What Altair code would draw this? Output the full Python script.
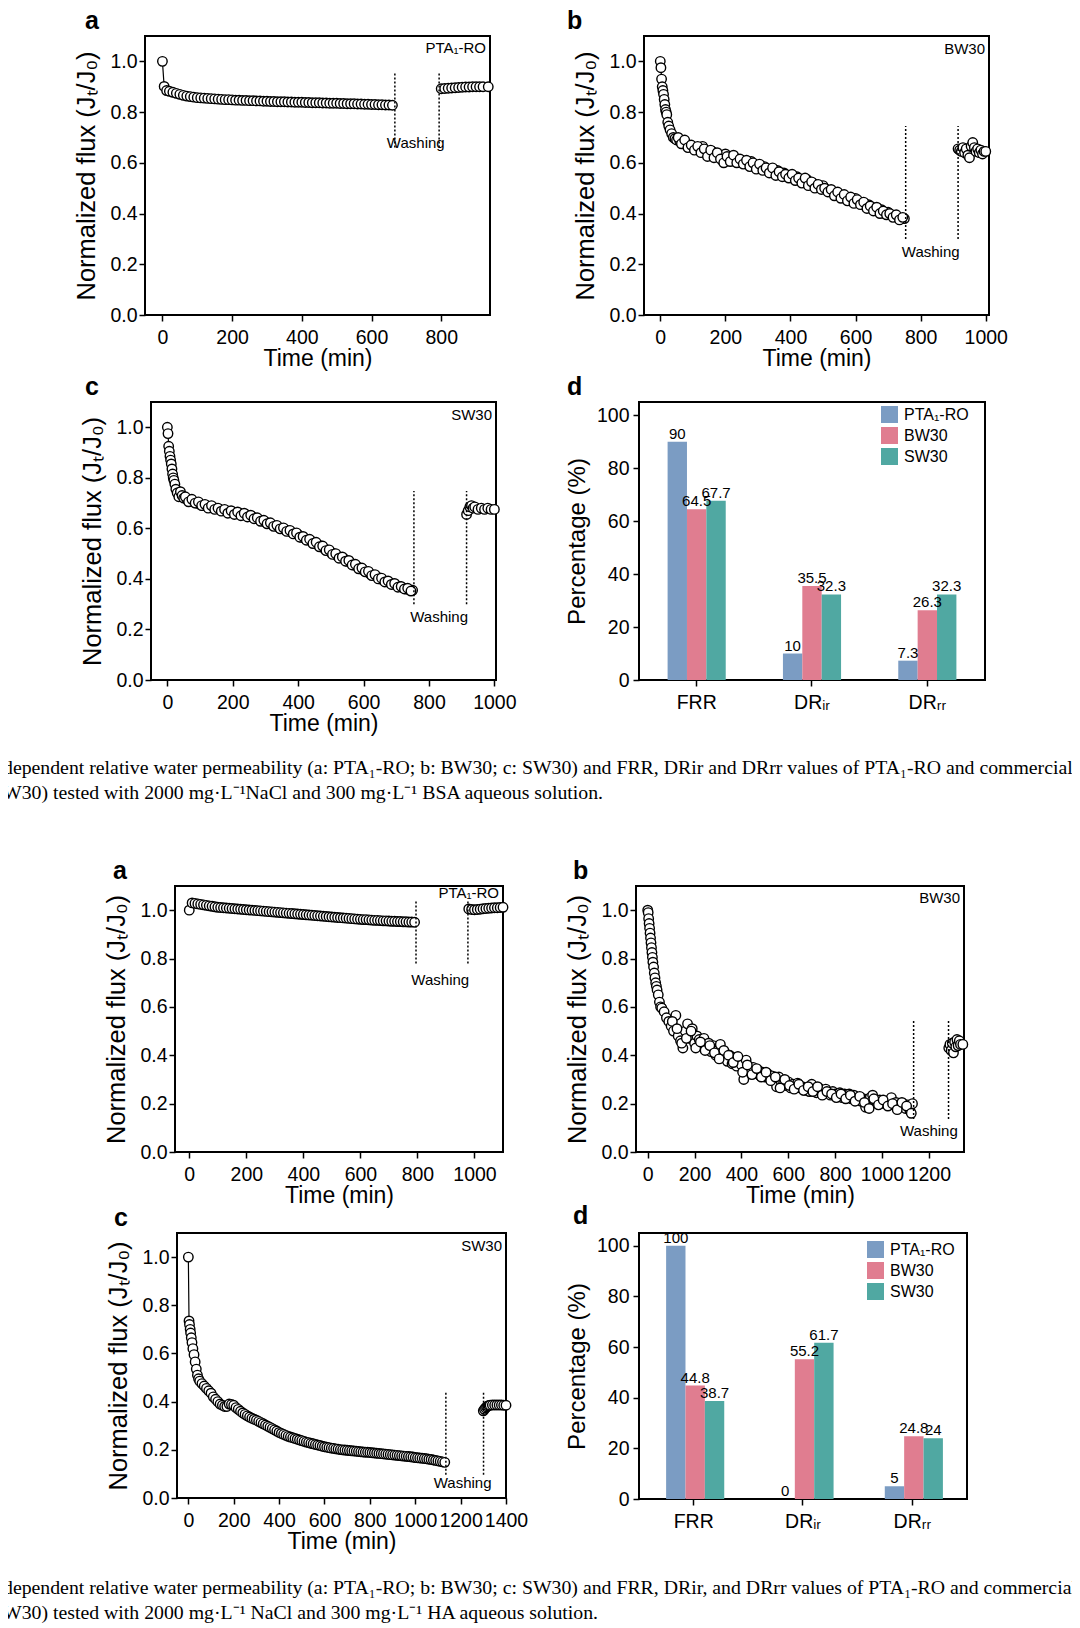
import altair as alt
import pandas as pd

# ---------------- data ----------------
YT = [0.0, 0.1, 0.2, 0.3, 0.4, 0.5, 0.6, 0.7, 0.8, 0.9, 1.0]

# BSA  a: PTA1-RO
a1_t = [0, 5, 12, 20, 30, 40, 50, 60, 70, 80, 90, 100, 110, 120, 130, 140, 150, 160, 170, 180, 190, 200,
        210, 220, 230, 240, 250, 260, 270, 280, 290, 300, 310, 320, 330, 340, 350, 360, 370, 380, 390, 400,
        410, 420, 430, 440, 450, 460, 470, 480, 490, 500, 510, 520, 530, 540, 550, 560, 570, 580, 590, 600,
        610, 620, 630, 640, 650, 660]
a1_v = [1.000, 0.901, 0.885, 0.882, 0.878, 0.874, 0.870, 0.866, 0.863, 0.861, 0.859, 0.857, 0.856, 0.855,
        0.854, 0.853, 0.852, 0.851, 0.850, 0.849, 0.849, 0.848, 0.847, 0.847, 0.846, 0.846, 0.845, 0.845,
        0.844, 0.844, 0.843, 0.843, 0.842, 0.842, 0.841, 0.841, 0.841, 0.840, 0.840, 0.839, 0.839, 0.839,
        0.838, 0.838, 0.837, 0.837, 0.837, 0.836, 0.836, 0.835, 0.835, 0.835, 0.834, 0.834, 0.833, 0.833,
        0.833, 0.832, 0.832, 0.831, 0.831, 0.830, 0.830, 0.829, 0.829, 0.828, 0.828, 0.827]
a1_t2 = [800, 810, 820, 830, 840, 850, 860, 870, 880, 890, 900, 910, 920, 935]
a1_v2 = [0.892, 0.893, 0.894, 0.895, 0.896, 0.897, 0.898, 0.899, 0.899, 0.900, 0.900, 0.900, 0.900, 0.900]

# BSA  b: BW30
b1_t = [0, 2, 4, 6, 8, 10, 12, 14, 16, 18, 20, 23, 26, 30, 35, 40, 45, 50, 60, 70, 80, 90, 100, 110, 120,
        130, 140, 150, 160, 170, 180, 190, 200, 210, 220, 230, 240, 250, 260, 270, 280, 290, 300, 310, 320,
        330, 340, 350, 360, 370, 380, 390, 400, 410, 420, 430, 440, 450, 460, 470, 480, 490, 500, 510, 520,
        530, 540, 550, 560, 570, 580, 590, 600, 610, 620, 630, 640, 650, 660, 670, 680, 690, 700, 710, 720,
        730, 740, 750]
b1_v = [1.00, 0.975, 0.93, 0.90, 0.885, 0.87, 0.85, 0.83, 0.81, 0.80, 0.79, 0.76, 0.745, 0.73, 0.715, 0.70,
        0.695, 0.69, 0.685, 0.68, 0.67, 0.665, 0.66, 0.655, 0.65, 0.665, 0.64, 0.635, 0.645, 0.63, 0.625,
        0.61, 0.635, 0.62, 0.615, 0.62, 0.605, 0.61, 0.60, 0.595, 0.605, 0.585, 0.59, 0.58, 0.585, 0.57,
        0.575, 0.56, 0.57, 0.555, 0.56, 0.545, 0.55, 0.54, 0.545, 0.53, 0.525, 0.535, 0.515, 0.52, 0.51,
        0.505, 0.51, 0.495, 0.49, 0.485, 0.48, 0.475, 0.47, 0.465, 0.455, 0.45, 0.46, 0.445, 0.44, 0.43,
        0.435, 0.425, 0.42, 0.41, 0.415, 0.40, 0.405, 0.395, 0.39, 0.385, 0.38, 0.38]
# extra (in-between) readings of the thick band, as (time, flux) pairs
b1_extra = [(55, 0.70), (65, 0.675), (75, 0.69), (85, 0.66), (95, 0.67), (105, 0.65), (115, 0.665),
            (125, 0.64), (135, 0.655), (145, 0.625), (155, 0.65), (165, 0.62), (175, 0.64), (185, 0.615),
            (195, 0.60), (205, 0.625), (215, 0.605), (225, 0.63), (235, 0.60), (245, 0.615), (255, 0.595),
            (265, 0.61), (275, 0.585), (285, 0.60), (295, 0.575), (305, 0.595), (315, 0.57), (325, 0.58),
            (335, 0.56), (345, 0.58), (355, 0.55), (365, 0.565), (375, 0.545), (385, 0.555), (395, 0.54),
            (405, 0.555), (415, 0.53), (425, 0.54), (435, 0.52), (445, 0.54), (455, 0.51), (465, 0.525),
            (475, 0.50), (485, 0.515), (495, 0.495), (505, 0.50), (515, 0.485), (525, 0.495), (535, 0.47),
            (545, 0.485), (555, 0.46), (565, 0.475), (575, 0.45), (585, 0.465), (595, 0.44), (605, 0.455),
            (615, 0.435), (625, 0.445), (635, 0.42), (645, 0.43), (655, 0.41), (665, 0.425), (675, 0.40),
            (685, 0.41), (695, 0.395), (705, 0.40), (715, 0.385), (725, 0.395), (735, 0.375), (745, 0.385)]
b1_t2 = [915, 920, 925, 930, 935, 940, 945, 950, 955, 960, 965, 970, 975, 980, 985, 990, 995, 1000]
b1_v2 = [0.655, 0.65, 0.645, 0.66, 0.64, 0.655, 0.63, 0.62, 0.665, 0.68, 0.66, 0.645, 0.655, 0.64, 0.65,
         0.635, 0.645, 0.645]

# BSA  c: SW30
c1_t = [0, 2, 4, 6, 8, 10, 12, 14, 16, 18, 20, 23, 26, 30, 35, 40, 45, 50, 60, 70, 80, 90, 100, 110, 120,
        130, 140, 150, 160, 170, 180, 190, 200, 210, 220, 230, 240, 250, 260, 270, 280, 290, 300, 310, 320,
        330, 340, 350, 360, 370, 380, 390, 400, 410, 420, 430, 440, 450, 460, 470, 480, 490, 500, 510, 520,
        530, 540, 550, 560, 570, 580, 590, 600, 610, 620, 630, 640, 650, 660, 670, 680, 690, 700, 710, 720,
        730, 740, 750]
c1_v = [1.00, 0.975, 0.925, 0.905, 0.885, 0.87, 0.855, 0.835, 0.815, 0.80, 0.79, 0.775, 0.755, 0.74, 0.725,
        0.745, 0.73, 0.72, 0.715, 0.71, 0.705, 0.70, 0.695, 0.69, 0.69, 0.685, 0.68, 0.68, 0.675, 0.67, 0.67,
        0.665, 0.665, 0.66, 0.66, 0.655, 0.655, 0.65, 0.645, 0.64, 0.635, 0.63, 0.625, 0.62, 0.615, 0.61,
        0.605, 0.60, 0.595, 0.59, 0.585, 0.58, 0.575, 0.565, 0.56, 0.555, 0.55, 0.545, 0.535, 0.53, 0.52,
        0.515, 0.505, 0.50, 0.49, 0.485, 0.48, 0.47, 0.465, 0.455, 0.45, 0.44, 0.435, 0.43, 0.42, 0.415,
        0.41, 0.40, 0.395, 0.39, 0.385, 0.38, 0.375, 0.37, 0.365, 0.36, 0.357, 0.355]
c1_extra = [(55, 0.725), (65, 0.705), (75, 0.715), (85, 0.70), (95, 0.705), (105, 0.69), (115, 0.695),
            (125, 0.68), (135, 0.69), (145, 0.675), (155, 0.68), (165, 0.668), (175, 0.675), (185, 0.66),
            (195, 0.67), (205, 0.655), (215, 0.665), (225, 0.65), (235, 0.66), (245, 0.645), (255, 0.652),
            (265, 0.638), (275, 0.642), (285, 0.628), (295, 0.632), (305, 0.618), (315, 0.622), (325, 0.608),
            (335, 0.612), (345, 0.598), (355, 0.602), (365, 0.588), (375, 0.592), (385, 0.578), (395, 0.582),
            (405, 0.565), (415, 0.568), (425, 0.553), (435, 0.557), (445, 0.54), (455, 0.545), (465, 0.527),
            (475, 0.53), (485, 0.512), (495, 0.515), (505, 0.497), (515, 0.50), (525, 0.482), (535, 0.487),
            (545, 0.47), (555, 0.473), (565, 0.455), (575, 0.458), (585, 0.44), (595, 0.443), (605, 0.428),
            (615, 0.43), (625, 0.413), (635, 0.417), (645, 0.40), (655, 0.403), (665, 0.388), (675, 0.392),
            (685, 0.378), (695, 0.382), (705, 0.367), (715, 0.37), (725, 0.36), (735, 0.363), (745, 0.352)]
c1_t2 = [915, 920, 925, 930, 935, 940, 950, 960, 970, 980, 990, 1000]
c1_v2 = [0.655, 0.67, 0.685, 0.69, 0.68, 0.685, 0.675, 0.68, 0.675, 0.68, 0.675, 0.675]

# HA  a: PTA1-RO
a2_t = [0, 10, 20, 30, 40, 50, 60, 70, 80, 90, 100, 110, 120, 130, 140, 150, 160, 170, 180, 190, 200, 210,
        220, 230, 240, 250, 260, 270, 280, 290, 300, 310, 320, 330, 340, 350, 360, 370, 380, 390, 400, 410,
        420, 430, 440, 450, 460, 470, 480, 490, 500, 510, 520, 530, 540, 550, 560, 570, 580, 590, 600, 610,
        620, 630, 640, 650, 660, 670, 680, 690, 700, 710, 720, 730, 740, 750, 760, 770, 780, 790]
a2_v = [1.000, 1.030, 1.028, 1.026, 1.024, 1.022, 1.020, 1.018, 1.016, 1.014, 1.012, 1.011, 1.010, 1.009,
        1.008, 1.007, 1.006, 1.005, 1.004, 1.003, 1.002, 1.001, 1.000, 0.999, 0.998, 0.997, 0.996, 0.995,
        0.994, 0.993, 0.992, 0.991, 0.990, 0.989, 0.988, 0.987, 0.986, 0.985, 0.984, 0.983, 0.982, 0.981,
        0.980, 0.979, 0.978, 0.977, 0.976, 0.975, 0.974, 0.973, 0.972, 0.971, 0.970, 0.969, 0.968, 0.967,
        0.966, 0.965, 0.964, 0.963, 0.962, 0.961, 0.961, 0.960, 0.959, 0.958, 0.958, 0.957, 0.956, 0.956,
        0.955, 0.954, 0.954, 0.953, 0.953, 0.952, 0.952, 0.951, 0.951, 0.950]
a2_t2 = [980, 990, 1000, 1010, 1020, 1030, 1040, 1050, 1060, 1070, 1080, 1090, 1100]
a2_v2 = [1.005, 1.003, 1.002, 1.003, 1.004, 1.006, 1.007, 1.008, 1.009, 1.010, 1.010, 1.011, 1.012]

# HA  b: BW30
b2_t = [0, 2, 4, 6, 8, 10, 12, 14, 16, 18, 20, 22, 25, 28, 31, 34, 37, 40, 45, 50, 55, 60, 70, 80, 90, 100,
        110, 120, 130, 140, 150, 160, 170, 180, 190, 200, 210, 220, 230, 240, 250, 260, 270, 280, 290, 300,
        310, 320, 330, 340, 350, 360, 370, 380, 390, 400, 410, 420, 430, 440, 450, 460, 470, 480, 490, 500,
        510, 520, 530, 540, 550, 560, 570, 580, 590, 600, 610, 620, 630, 640, 650, 660, 670, 680, 690, 700,
        710, 720, 730, 740, 750, 760, 770, 780, 790, 800, 810, 820, 830, 840, 850, 860, 870, 880, 890, 900,
        910, 920, 930, 940, 950, 960, 970, 980, 990, 1000, 1010, 1020, 1030, 1040, 1050, 1060, 1070, 1080,
        1090, 1100, 1110, 1120, 1130]
b2_v = [1.00, 0.99, 0.965, 0.945, 0.925, 0.905, 0.885, 0.865, 0.845, 0.825, 0.805, 0.785, 0.765, 0.74, 0.72,
        0.70, 0.685, 0.67, 0.65, 0.62, 0.60, 0.595, 0.58, 0.555, 0.54, 0.52, 0.50, 0.565, 0.48, 0.46, 0.43,
        0.50, 0.53, 0.47, 0.51, 0.45, 0.48, 0.465, 0.44, 0.47, 0.43, 0.45, 0.415, 0.44, 0.40, 0.42, 0.445,
        0.39, 0.41, 0.375, 0.40, 0.365, 0.39, 0.355, 0.38, 0.36, 0.30, 0.38, 0.345, 0.33, 0.35, 0.325, 0.34,
        0.315, 0.33, 0.31, 0.325, 0.305, 0.315, 0.295, 0.27, 0.31, 0.29, 0.285, 0.275, 0.29, 0.265, 0.28,
        0.27, 0.285, 0.265, 0.27, 0.255, 0.265, 0.25, 0.28, 0.26, 0.245, 0.265, 0.255, 0.24, 0.26, 0.245,
        0.235, 0.25, 0.24, 0.23, 0.245, 0.225, 0.24, 0.23, 0.24, 0.22, 0.235, 0.215, 0.225, 0.21, 0.22, 0.185,
        0.215, 0.225, 0.235, 0.21, 0.20, 0.215, 0.205, 0.20, 0.21, 0.195, 0.225, 0.20, 0.205, 0.195, 0.19,
        0.20, 0.18, 0.195, 0.17, 0.20]
b2_extra = [(105, 0.54), (125, 0.51), (145, 0.45), (165, 0.47), (185, 0.50), (205, 0.43), (225, 0.455),
            (245, 0.42), (265, 0.44), (285, 0.41), (305, 0.385), (325, 0.42), (345, 0.40), (365, 0.37),
            (385, 0.395), (405, 0.33), (425, 0.36), (445, 0.32), (465, 0.345), (485, 0.31), (505, 0.33),
            (525, 0.295), (545, 0.31), (565, 0.265), (585, 0.30), (605, 0.275), (625, 0.26), (645, 0.28),
            (665, 0.255), (685, 0.27), (705, 0.25), (725, 0.27), (745, 0.235), (765, 0.25), (785, 0.24),
            (805, 0.225), (825, 0.24), (845, 0.22), (865, 0.235), (885, 0.21), (905, 0.23), (925, 0.205),
            (945, 0.18), (965, 0.22), (985, 0.195), (1005, 0.215), (1025, 0.19), (1045, 0.20), (1065, 0.175),
            (1085, 0.205), (1105, 0.19), (1125, 0.16)]
b2_t2 = [1285, 1290, 1295, 1300, 1305, 1310, 1315, 1320, 1325, 1330, 1335, 1345]
b2_v2 = [0.43, 0.445, 0.42, 0.45, 0.41, 0.455, 0.435, 0.465, 0.44, 0.46, 0.445, 0.445]

# HA  c: SW30
c2_t = [0, 3, 5, 8, 10, 13, 16, 20, 25, 30, 35, 40, 45, 50, 60, 70, 80, 90, 100, 110, 120, 130, 140, 150,
        160, 170, 180, 190, 200, 210, 220, 230, 240, 250, 260, 270, 280, 290, 300, 310, 320, 330, 340, 350,
        360, 370, 380, 390, 400, 410, 420, 430, 440, 450, 460, 470, 480, 490, 500, 510, 520, 530, 540, 550,
        560, 570, 580, 590, 600, 610, 620, 630, 640, 650, 660, 670, 680, 690, 700, 710, 720, 730, 740, 750,
        760, 770, 780, 790, 800, 810, 820, 830, 840, 850, 860, 870, 880, 890, 900, 910, 920, 930, 940, 950,
        960, 970, 980, 990, 1000, 1010, 1020, 1030, 1040, 1050, 1060, 1070, 1080, 1090, 1100, 1110, 1120,
        1130]
c2_v = [1.00, 0.735, 0.72, 0.70, 0.685, 0.665, 0.645, 0.62, 0.595, 0.565, 0.535, 0.51, 0.495, 0.485, 0.475,
        0.465, 0.455, 0.445, 0.435, 0.42, 0.41, 0.40, 0.39, 0.385, 0.38, 0.38, 0.39, 0.388, 0.385, 0.375,
        0.368, 0.36, 0.353, 0.347, 0.341, 0.336, 0.331, 0.327, 0.323, 0.318, 0.313, 0.308, 0.303, 0.298,
        0.293, 0.288, 0.283, 0.278, 0.272, 0.268, 0.264, 0.26, 0.256, 0.253, 0.25, 0.247, 0.244, 0.241,
        0.238, 0.235, 0.232, 0.23, 0.227, 0.225, 0.222, 0.22, 0.218, 0.215, 0.213, 0.211, 0.209, 0.207,
        0.206, 0.204, 0.203, 0.201, 0.20, 0.199, 0.198, 0.197, 0.196, 0.195, 0.194, 0.193, 0.192, 0.191,
        0.19, 0.19, 0.189, 0.188, 0.187, 0.186, 0.185, 0.184, 0.183, 0.182, 0.181, 0.18, 0.179, 0.178,
        0.177, 0.176, 0.175, 0.174, 0.173, 0.172, 0.171, 0.17, 0.168, 0.167, 0.166, 0.165, 0.164, 0.163,
        0.161, 0.16, 0.158, 0.156, 0.154, 0.152, 0.15, 0.148]
c2_t2 = [1300, 1305, 1310, 1315, 1320, 1325, 1330, 1340, 1350, 1360, 1370, 1380, 1390, 1400]
c2_v2 = [0.362, 0.368, 0.374, 0.378, 0.382, 0.384, 0.385, 0.386, 0.386, 0.386, 0.386, 0.386, 0.385, 0.385]

# bar panels
CATS = ["FRR", "DRᵢᵣ", "DRᵣᵣ"]
SERIES = ["PTA₁-RO", "BW30", "SW30"]
COLORS = ["#7B9CC3", "#E07D90", "#50A8A2"]
bsa_pta = [90, 10, 7.3]
bsa_bw = [64.5, 35.5, 26.3]
bsa_sw = [67.7, 32.3, 32.3]
ha_pta = [100, 0, 5]
ha_bw = [44.8, 55.2, 24.8]
ha_sw = [38.7, 61.7, 24]
PT = [0, 10, 20, 30, 40, 50, 60, 70, 80, 90, 100]

CAP1 = ["dependent relative water permeability (a: PTA₁-RO; b: BW30; c: SW30) and FRR, DRir and DRrr values of PTA₁-RO and commercial RO",
        "W30) tested with 2000 mg·L⁻¹NaCl and 300 mg·L⁻¹ BSA aqueous solution."]
CAP2 = ["dependent relative water permeability (a: PTA₁-RO; b: BW30; c: SW30) and FRR, DRir, and DRrr values of PTA₁-RO and commercial RO",
        "W30) tested with 2000 mg·L⁻¹ NaCl and 300 mg·L⁻¹ HA aqueous solution."]

FONT = "Liberation Sans"


def letter_title(letter, dx):
    return alt.TitleParams(letter, anchor="start", frame="group", dx=dx, fontSize=25,
                           fontWeight="bold", font=FONT, offset=2, color="black")


def flux_panel(t1, v1, extra, t2, v2, xdom, xmax_tick, w, h, letter, dx, name, name_y,
               wash_x, wash_y, wash_lbl):
    et = [p[0] for p in extra]
    ev = [p[1] for p in extra]
    df = pd.DataFrame({"t": t1 + et + t2, "v": v1 + ev + v2,
                       "seg": ["pre"] * (len(t1) + len(et)) + ["post"] * len(t2)})
    xticks = list(range(0, xmax_tick + 1, 100))
    x = alt.X("t:Q", scale=alt.Scale(domain=xdom, nice=False, zero=False),
              axis=alt.Axis(values=xticks, title="Time (min)", format="d",
                            labelExpr="datum.value % 200 === 0 ? datum.label : ''"))
    y = alt.Y("v:Q", scale=alt.Scale(domain=[0, 1.1], nice=False),
              axis=alt.Axis(values=YT, title="Normalized flux (Jₜ/J₀)", titleFontSize=25.5,
                            labelExpr="round(datum.value*10) % 2 === 0 ? format(datum.value, '.1f') : ''"))
    line_df = pd.DataFrame({"t": t1 + t2, "v": v1 + v2,
                            "seg": ["pre"] * len(t1) + ["post"] * len(t2)})
    line = alt.Chart(line_df).mark_line(color="black", strokeWidth=1.2).encode(x=x, y=y, detail="seg:N")
    pts = alt.Chart(df).mark_point(shape="circle", filled=True, fill="white", stroke="black",
                                   strokeWidth=1.4, size=90, opacity=1).encode(x="t:Q", y="v:Q")
    wdf = pd.DataFrame({"t": wash_x, "v": [wash_y[0]] * 2, "v2": [wash_y[1]] * 2})
    rules = alt.Chart(wdf).mark_rule(color="black", strokeWidth=1.5, strokeDash=[2, 2]).encode(
        x="t:Q", y="v:Q", y2="v2:Q")
    wt = alt.Chart(pd.DataFrame({"t": [wash_lbl[0]], "v": [wash_lbl[1]], "s": ["Washing"]})).mark_text(
        fontSize=15, baseline="middle", font=FONT, color="black").encode(x="t:Q", y="v:Q", text="s:N")
    nt = alt.Chart(pd.DataFrame({"v": [name_y], "s": [name]})).mark_text(
        fontSize=15, align="right", baseline="middle", font=FONT, color="black").encode(
        x=alt.value(w - 4), y="v:Q", text="s:N")
    return alt.layer(line, pts, rules, wt, nt).properties(
        width=w, height=h, title=letter_title(letter, dx))


def bar_panel(pta, bw, sw, w, h, letter, dx, lx, ly):
    rows = []
    for s, vals in zip(SERIES, [pta, bw, sw]):
        for c, v in zip(CATS, vals):
            rows.append({"cat": c, "series": s, "value": v})
    df = pd.DataFrame(rows)
    x = alt.X("cat:N", sort=CATS, scale=alt.Scale(paddingInner=0.496, paddingOuter=0.248),
              axis=alt.Axis(title=None, labelAngle=0))
    xo = alt.XOffset("series:N", sort=SERIES, scale=alt.Scale(paddingInner=0, paddingOuter=0))
    y = alt.Y("value:Q", scale=alt.Scale(domain=[0, 105], nice=False),
              axis=alt.Axis(values=PT, title="Percentage (%)", format="d", titleFontSize=24,
                            labelExpr="datum.value % 20 === 0 ? datum.label : ''",
                            minExtent=43, maxExtent=43, labelPadding=4, titlePadding=7))
    bars = alt.Chart(df).mark_bar().encode(
        x=x, xOffset=xo, y=y,
        color=alt.Color("series:N", sort=SERIES,
                        scale=alt.Scale(domain=SERIES, range=COLORS),
                        legend=alt.Legend(orient="none", legendX=lx, legendY=ly, title=None,
                                          symbolType="square", symbolSize=289, symbolStrokeWidth=0,
                                          labelFontSize=16, labelFont=FONT, labelColor="black",
                                          rowPadding=4, labelOffset=6)))
    labels = alt.Chart(df).mark_text(dy=-3, baseline="alphabetic", fontSize=15, font=FONT,
                                     color="black").encode(
        x=alt.X("cat:N", sort=CATS), xOffset=alt.XOffset("series:N", sort=SERIES),
        y="value:Q", text=alt.Text("value:Q", format="~g"))
    return alt.layer(bars, labels).properties(width=w, height=h, title=letter_title(letter, dx))


def spacer(w, h):
    return alt.Chart(pd.DataFrame({"s": [0]})).mark_point(opacity=0, size=1).encode(
        x=alt.value(w / 2), y=alt.value(h / 2)).properties(
        width=w, height=h, view=alt.ViewBackground(strokeOpacity=0))


def caption(lines):
    layers = []
    for i, ln in enumerate(lines):
        layers.append(alt.Chart(pd.DataFrame({"s": [ln]})).mark_text(
            align="left", baseline="alphabetic", font="Liberation Serif", fontSize=19.8,
            clip=True, color="black").encode(x=alt.value(-5), y=alt.value(31 + 25 * i), text="s:N"))
    return alt.layer(*layers).properties(width=1064, height=62,
                                         view=alt.ViewBackground(strokeOpacity=0))


def indep(c):
    return c.resolve_scale(color="independent").resolve_legend(color="independent")


a1 = flux_panel(a1_t, a1_v, [], a1_t2, a1_v2, [-50, 940], 900, 345, 279, "a", -60, "PTA₁-RO", 1.053,
                [667, 794], [0.66, 0.953], [727, 0.68])
b1 = flux_panel(b1_t, b1_v, b1_extra, b1_t2, b1_v2, [-50, 1010], 1000, 345, 279, "b", -77, "BW30", 1.05,
                [754, 915], [0.30, 0.745], [831, 0.25])
c1 = flux_panel(c1_t, c1_v, c1_extra, c1_t2, c1_v2, [-50, 1005], 1000, 345, 278, "c", -66, "SW30", 1.05,
                [754, 915], [0.30, 0.748], [831, 0.25])
d1 = bar_panel(bsa_pta, bsa_bw, bsa_sw, 346, 278, "d", -72, 242, 4)

a2 = flux_panel(a2_t, a2_v, [], a2_t2, a2_v2, [-50, 1100], 1100, 328, 266, "a", -62, "PTA₁-RO", 1.069,
                [795, 977], [0.78, 1.04], [880, 0.71])
b2 = flux_panel(b2_t, b2_v, b2_extra, b2_t2, b2_v2, [-50, 1350], 1300, 328, 266, "b", -63, "BW30", 1.05,
                [1135, 1284], [0.136, 0.544], [1200, 0.087])
c2 = flux_panel(c2_t, c2_v, [], c2_t2, c2_v2, [-50, 1400], 1400, 329, 265, "c", -63, "SW30", 1.048,
                [1135, 1301], [0.097, 0.437], [1209, 0.062])
d2 = bar_panel(ha_pta, ha_bw, ha_sw, 328, 266, "d", -66, 228, 8)

row1 = indep(alt.hconcat(spacer(64, 1), indep(alt.hconcat(a1, b1, spacing=69)), spacing=0))
row2 = indep(alt.hconcat(spacer(70, 1), indep(alt.hconcat(c1, d1, spacing=46)), spacing=0))
row3 = indep(alt.hconcat(spacer(94, 1), indep(alt.hconcat(a2, b2, spacing=51)), spacing=0))
row4 = indep(alt.hconcat(spacer(96, 1), indep(alt.hconcat(c2, d2, spacing=35)), spacing=0))
rows34 = indep(alt.vconcat(row3, row4, spacing=-6))

chart = indep(alt.vconcat(
    row1, spacer(1, 3), row2, spacer(1, 7), caption(CAP1), spacer(1, 53),
    rows34, spacer(1, 9), caption(CAP2), spacing=0
)).properties(padding=0, background="white").configure(font=FONT).configure_view(
    stroke="black", strokeWidth=2
).configure_axis(
    labelFont=FONT, titleFont=FONT, labelFontSize=19.5, titleFontSize=23, titleFontWeight="normal",
    labelColor="black", titleColor="black", tickColor="black", tickWidth=1.5, domain=False,
    grid=False, labelOverlap=False, labelFlush=False
).configure_axisX(
    tickSize=6, labelPadding=7, minExtent=32, maxExtent=32, titlePadding=0
).configure_axisY(
    tickSize=6, labelPadding=2, minExtent=36, maxExtent=36, titlePadding=10
)

chart.save("out.html", embed_options={"renderer": "svg", "actions": False})
